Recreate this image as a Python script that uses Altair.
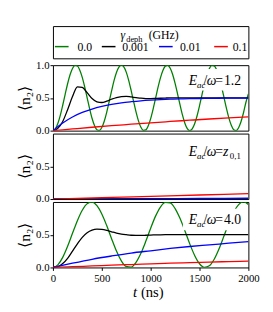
import altair as alt
import pandas as pd

FONT = "Liberation Serif"
CATS = ["0.0", "0.001", "0.01", "0.1"]
COLORS = ["#008000", "#000000", "#0000ff", "#ff0000"]

T25 = list(range(0, 2001, 25))
T50 = list(range(0, 2001, 50))
T100 = list(range(0, 2001, 100))
T200 = list(range(0, 2001, 200))
T500 = list(range(0, 2001, 500))

# Panel 1: E_ac/omega = 1.2
green1 = [0, 0.028, 0.109, 0.234, 0.388, 0.555, 0.716, 0.853, 0.950, 0.997,
          0.988, 0.924, 0.813, 0.667, 0.502, 0.337, 0.189, 0.078, 0.013, 0.003,
          0.048, 0.144, 0.280, 0.441, 0.607, 0.764, 0.889, 0.970, 1.000, 0.973,
          0.894, 0.769, 0.614, 0.448, 0.287, 0.150, 0.051, 0.004, 0.011, 0.074,
          0.184, 0.330, 0.494, 0.660, 0.807, 0.920, 0.986, 0.998, 0.953, 0.858,
          0.723, 0.563, 0.396, 0.240, 0.114, 0.031, 0.000, 0.026, 0.104, 0.228,
          0.381, 0.547, 0.710, 0.847, 0.946, 0.996, 0.989, 0.929, 0.819, 0.674,
          0.510, 0.344, 0.196, 0.082, 0.015, 0.002, 0.045, 0.139, 0.273, 0.434,
          0.560]
black1 = [0, 0.035, 0.14, 0.32, 0.52, 0.67, 0.66, 0.58, 0.49, 0.44,
          0.43, 0.45, 0.48, 0.505, 0.52, 0.525, 0.515, 0.505, 0.495, 0.49,
          0.49, 0.492, 0.495, 0.498, 0.5, 0.5, 0.5, 0.5, 0.5, 0.5,
          0.5, 0.5, 0.5, 0.5, 0.5, 0.5, 0.5, 0.5, 0.5, 0.5, 0.5]
blue1 = [0, 0.118, 0.209, 0.278, 0.330, 0.370, 0.401, 0.425, 0.442, 0.456,
         0.466, 0.474, 0.480, 0.485, 0.489, 0.491, 0.493, 0.495, 0.496, 0.497,
         0.498]
red1 = [0, 0.026, 0.052, 0.076, 0.098, 0.120, 0.140, 0.159, 0.178, 0.195, 0.210]

# Panel 2: E_ac/omega = z_{0,1}
green2 = [0, 0, 0, 0, 0]
black2 = [0, 0.0005, 0.001, 0.0015, 0.002]
blue2 = [0, 0.003, 0.006, 0.010, 0.013]
red2 = [0, 0.021, 0.042, 0.062, 0.082]

# Panel 3: E_ac/omega = 4.0
green3 = [0, 0.040, 0.154, 0.323, 0.521, 0.715, 0.874, 0.974, 0.998, 0.943,
          0.816, 0.640, 0.440, 0.250, 0.100, 0.015, 0.006, 0.077, 0.216, 0.399,
          0.600, 0.784, 0.923, 0.994, 0.986, 0.899, 0.750, 0.561, 0.360, 0.184,
          0.057, 0.002, 0.026, 0.126, 0.286, 0.480, 0.677, 0.846, 0.960, 1.000,
          0.960]
black3 = [0, 0.01, 0.06, 0.14, 0.25, 0.36, 0.46, 0.53, 0.57, 0.585,
          0.58, 0.565, 0.545, 0.525, 0.51, 0.5, 0.492, 0.49, 0.49, 0.492,
          0.495, 0.497, 0.499, 0.5, 0.5, 0.5, 0.5, 0.5, 0.5, 0.5,
          0.5, 0.5, 0.5, 0.5, 0.5, 0.5, 0.5, 0.5, 0.5, 0.5, 0.5]
blue3 = [0, 0.065, 0.125, 0.175, 0.22, 0.255, 0.29, 0.32, 0.345, 0.37, 0.395]
red3 = [0, 0.012, 0.023, 0.034, 0.045, 0.055, 0.065, 0.074, 0.082, 0.09, 0.097]


def make_df(series):
    rows = []
    for cat, ts, vs in series:
        assert len(ts) == len(vs), (cat, len(ts), len(vs))
        for t, v in zip(ts, vs):
            rows.append({"t": t, "v": v, "g": cat})
    return pd.DataFrame(rows)


df1 = make_df([("0.0", T25, green1), ("0.001", T50, black1), ("0.01", T100, blue1), ("0.1", T200, red1)])
df2 = make_df([("0.0", T500, green2), ("0.001", T500, black2), ("0.01", T500, blue2), ("0.1", T500, red2)])
df3 = make_df([("0.0", T50, green3), ("0.001", T50, black3), ("0.01", T200, blue3), ("0.1", T200, red3)])

ONE = pd.DataFrame({"k": [0]})
W = 200
H = 67


def txt(s, x, y, size, italic=False, align="left"):
    return alt.Chart(ONE).mark_text(
        text=s, align=align, baseline="alphabetic", fontSize=size,
        fontStyle="italic" if italic else "normal", font=FONT, color="black"
    ).encode(x=alt.value(x), y=alt.value(y))


def label(value_parts, base):
    parts = [
        alt.Chart(ONE).mark_rect(color="white").encode(
            x=alt.value(133), x2=alt.value(199), y=alt.value(base - 16), y2=alt.value(base + 6)),
        txt("E", 139, base, 14, italic=True),
        txt("ac", 147.5, base + 3, 9, italic=True),
        txt("/", 154, base, 14),
        txt("ω", 157.5, base, 14, italic=True),
        txt("=", 166, base, 14),
    ]
    parts += value_parts
    return parts


def panel(df, yvals, bottom, extra):
    if bottom:
        xaxis = alt.Axis(values=[0, 500, 1000, 1500, 2000], format="d", title=None,
                         labelFlush=False, tickSize=3, labelPadding=2)
    else:
        xaxis = None
    lines = alt.Chart(df).mark_line(clip=True, strokeWidth=1.3, interpolate="monotone").encode(
        x=alt.X("t:Q", scale=alt.Scale(domain=[0, 2000], nice=False), axis=xaxis),
        y=alt.Y("v:Q", scale=alt.Scale(domain=[0, 1], nice=False),
                axis=alt.Axis(values=yvals, format=".1f", title="⟨n₂⟩", tickSize=3,
                              labelPadding=1, titlePadding=3)),
        color=alt.Color("g:N", scale=alt.Scale(domain=CATS, range=COLORS), legend=None),
        order=alt.Order("t:Q"),
    )
    return alt.layer(lines, *extra).properties(width=W, height=H)


p1 = panel(df1, [0, 0.5, 1.0], False, label([txt("1.2", 175, 20, 14)], 20))
p2 = panel(df2, [0, 0.5], False, label([txt("z", 174, 23, 14, italic=True),
                                         txt("0,1", 181, 26, 9)], 23))
p3 = panel(df3, [0, 0.5], True, label([txt("4.0", 175, 23, 14)], 23) + [
    txt("t", 82, 97, 15, italic=True), txt("(ns)", 90, 97, 15)])

# legend: handle centre and label start for each entry
LEG_HANDLE_X = [9, 57, 115.5, 172]
LEG_LABEL_X = [25, 71, 130, 184]
legend_df = pd.DataFrame({"cat": CATS})
leg_layers = []
for c, hx, tx in zip(CATS, LEG_HANDLE_X, LEG_LABEL_X):
    sub = alt.Chart(legend_df).transform_filter(alt.datum.cat == c)
    leg_layers.append(sub.mark_point(shape="stroke", size=196, strokeWidth=1.5, opacity=1).encode(
        x=alt.value(hx), y=alt.value(21),
        color=alt.Color("cat:N", scale=alt.Scale(domain=CATS, range=COLORS), legend=None)))
    leg_layers.append(sub.mark_text(align="left", baseline="middle", fontSize=12, font=FONT,
                                    color="black").encode(
        x=alt.value(tx), y=alt.value(21), text="cat:N"))
legend_panel = alt.layer(
    *leg_layers,
    txt("γ", 69, 13, 12, italic=True),
    txt("deph", 75, 16, 8.5),
    txt("(GHz)", 98, 13, 12),
).properties(width=W, height=33)

panels = alt.vconcat(p1, p2, p3, spacing=3, bounds="flush").resolve_scale(x="independent", y="independent")
chart = alt.vconcat(legend_panel, panels, spacing=7, bounds="flush").resolve_scale(
    x="independent", color="independent"
).properties(
    padding={"left": 8, "top": 14, "right": 5, "bottom": 5}
).configure(font=FONT).configure_axis(
    labelFont=FONT, labelFontSize=11, labelColor="black", titleFont=FONT, titleFontSize=16,
    titleFontWeight="normal", titleColor="black", grid=False, domain=False, tickColor="black",
).configure_view(stroke="black", strokeWidth=1)

chart.save("out.html", embed_options={"renderer": "svg", "actions": False})
